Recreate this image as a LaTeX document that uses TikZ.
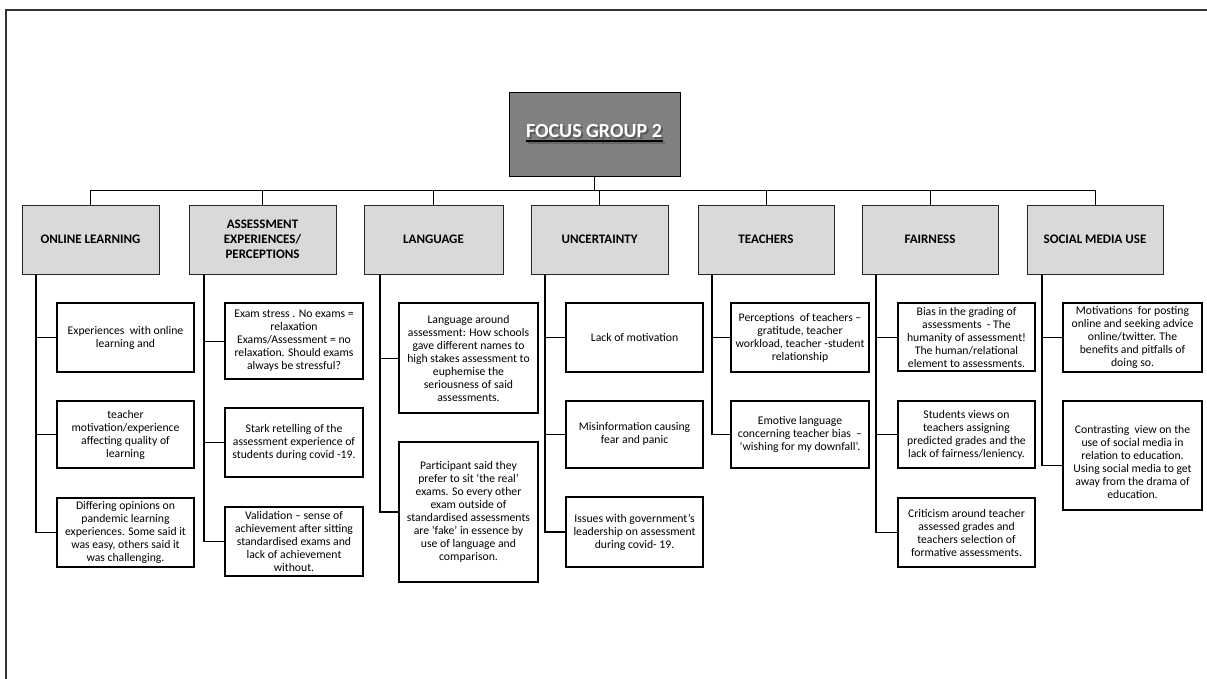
\documentclass[tikz,border=0pt]{standalone}
\usepackage{fontspec}
\setmainfont{Carlito}
\begin{document}
\begin{tikzpicture}[x=1pt,y=-1pt,
  every node/.style={inner sep=0pt, outer sep=0pt},
  catbox/.style={draw=black!85, line width=0.9pt, fill=black!15, align=center,
    minimum height=69pt, font=\fontsize{13}{15}\selectfont\bfseries},
  leaf/.style={draw=black, line width=1.1pt, fill=white, align=center,
    font=\fontsize{11.7}{13}\selectfont},
  link/.style={draw=black, line width=0.9pt},
  spine/.style={draw=black, line width=1.2pt}]
\useasboundingbox (0,0) rectangle (1207,679);
% outer frame (only top and left edges fall inside the page)
\draw[black!80, line width=1.4pt] (6,679) -- (6,10) -- (1207,10);

% root
\node[draw=black, line width=1pt, fill=black!50, minimum width=171pt, minimum height=84pt] (root) at (594.5,135) {};
\node[text=black!70, opacity=0.7, font=\fontsize{20}{22}\selectfont\bfseries] (titlesh) at (596,133.5) {FOCUS GROUP 2};
\node[text=white, font=\fontsize{20}{22}\selectfont\bfseries] (title) at (594,131.5) {FOCUS GROUP 2};
\draw[black!60, line width=2pt] ([xshift=1.5pt,yshift=-4.5pt]title.south west) -- ([xshift=3pt,yshift=-4.5pt]title.south east);
\draw[black, line width=2pt] ([yshift=-3pt]title.south west) -- ([xshift=1.5pt,yshift=-3pt]title.south east);

% categories
\node[catbox, minimum width=137pt] (ol) at (90.5,239.5) {ONLINE LEARNING};
\node[catbox, minimum width=147pt] (as) at (262.5,239.5) {ASSESSMENT\\EXPERIENCES/\\PERCEPTIONS};
\node[catbox, minimum width=139pt] (la) at (433.5,239.5) {LANGUAGE};
\node[catbox, minimum width=137pt] (un) at (599.5,239.5) {UNCERTAINTY};
\node[catbox, minimum width=136pt] (te) at (766,239.5) {TEACHERS};
\node[catbox, minimum width=136pt] (fa) at (930,239.5) {FAIRNESS};
\node[catbox, minimum width=136pt] (so) at (1095,239.5) {SOCIAL MEDIA USE};

% bus from root to every category
\coordinate (bus) at (594.5,190.5);
\draw[line width=1.6pt] (root.south) -- (bus);
\foreach \c in {ol,as,la,un,te,fa,so}{
  \draw[link] (\c.north) |- (bus);
}

% ONLINE LEARNING
\node[leaf, minimum width=137pt, minimum height=69pt] (ol1) at (125.5,337.5) {Experiences\ \ with online\\learning and};
\node[leaf, minimum width=137pt, minimum height=67pt] (ol2) at (125.5,434.5) {teacher\\motivation/experience\\affecting quality of\\learning};
\node[leaf, minimum width=137pt, minimum height=69pt] (ol3) at (125.5,532.5) {Differing opinions on\\pandemic learning\\experiences. Some said it\\was easy, others said it\\was challenging.};
\coordinate (olsp) at (36,274);
\draw[spine] (olsp) |- (ol3.west);
\draw[link] (ol1.west) -- (ol1.west -| olsp);
\draw[link] (ol2.west) -- (ol2.west -| olsp);

% ASSESSMENT
\node[leaf, minimum width=138pt, minimum height=76pt] (as1) at (294,341) {Exam stress . No exams =\\relaxation\\Exams/Assessment = no\\relaxation. Should exams\\always be stressful?};
\node[leaf, minimum width=138pt, minimum height=69pt] (as2) at (294,442.5) {Stark retelling of the\\assessment experience of\\students during covid -19.};
\node[leaf, minimum width=138pt, minimum height=69pt] (as3) at (294,541.5) {Validation -- sense of\\achievement after sitting\\standardised exams and\\lack of achievement\\without.};
\coordinate (assp) at (204,274);
\draw[spine] (assp) |- (as3.west);
\draw[link] (as1.west) -- (as1.west -| assp);
\draw[link] (as2.west) -- (as2.west -| assp);

% LANGUAGE
\node[leaf, minimum width=139pt, minimum height=110pt] (la1) at (468.5,358) {Language around\\assessment: How schools\\gave different names to\\high stakes assessment to\\euphemise the\\seriousness of said\\assessments.};
\node[leaf, minimum width=139pt, minimum height=140pt] (la2) at (468.5,512) {Participant said they\\prefer to sit ‘the real’\\exams. So every other\\exam outside of\\standardised assessments\\are ‘fake’ in essence by\\use of language and\\comparison.};
\coordinate (lasp) at (380,274);
\draw[spine] (lasp) |- (la2.west);
\draw[link] (la1.west) -- (la1.west -| lasp);

% UNCERTAINTY
\node[leaf, minimum width=137pt, minimum height=69pt] (un1) at (634.5,337.5) {Lack\ of motivation};
\node[leaf, minimum width=137pt, minimum height=67pt] (un2) at (634.5,434.5) {Misinformation causing\\fear and panic\\[-9pt]};
\node[leaf, minimum width=137pt, minimum height=70pt] (un3) at (634.5,532) {Issues with government’s\\leadership on assessment\\during covid- 19.};
\coordinate (unsp) at (545,274);
\draw[spine] (unsp) |- (un3.west);
\draw[link] (un1.west) -- (un1.west -| unsp);
\draw[link] (un2.west) -- (un2.west -| unsp);

% TEACHERS
\node[leaf, minimum width=138pt, minimum height=69pt] (te1) at (800,337.5) {Perceptions\ \ of teachers --\\gratitude, teacher\\workload, teacher -student\\relationship};
\node[leaf, minimum width=138pt, minimum height=67pt] (te2) at (800,434.5) {Emotive language\\concerning teacher bias\ \ --\\‘wishing for my downfall’.};
\coordinate (tesp) at (712,274);
\draw[spine] (tesp) |- (te2.west);
\draw[link] (te1.west) -- (te1.west -| tesp);

% FAIRNESS
\node[leaf, minimum width=137pt, minimum height=68pt] (fa1) at (966.5,337) {Bias in the grading of\\assessments\ \ - The\\humanity of assessment!\\The human/relational\\element to assessments.};
\node[leaf, minimum width=137pt, minimum height=67pt] (fa2) at (966.5,434.5) {Students views on\\teachers assigning\\predicted grades and the\\lack of fairness/leniency.};
\node[leaf, minimum width=137pt, minimum height=69pt] (fa3) at (966.5,532.5) {Criticism around teacher\\assessed grades and\\teachers selection of\\formative assessments.};
\coordinate (fasp) at (876,274);
\draw[spine] (fasp) |- (fa3.west);
\draw[link] (fa1.west) -- (fa1.west -| fasp);
\draw[link] (fa2.west) -- (fa2.west -| fasp);

% SOCIAL MEDIA USE
\node[leaf, minimum width=139pt, minimum height=69pt] (so1) at (1132.5,337.5) {Motivations\ \ for posting\\online and seeking advice\\online/twitter. The\\benefits and pitfalls of\\doing so.};
\node[leaf, minimum width=139pt, minimum height=109pt] (so2) at (1132.5,455.5) {\\[8pt]Contrasting\ \ view on the\\use of social media in\\relation to education.\\Using social media to get\\away from the drama of\\education.};
\coordinate (sosp) at (1042,274);
\coordinate (so2in) at ([yshift=-10pt]so2.west);
\draw[spine] (sosp) |- (so2in);
\draw[link] (so1.west) -- (so1.west -| sosp);
\end{tikzpicture}
\end{document}
